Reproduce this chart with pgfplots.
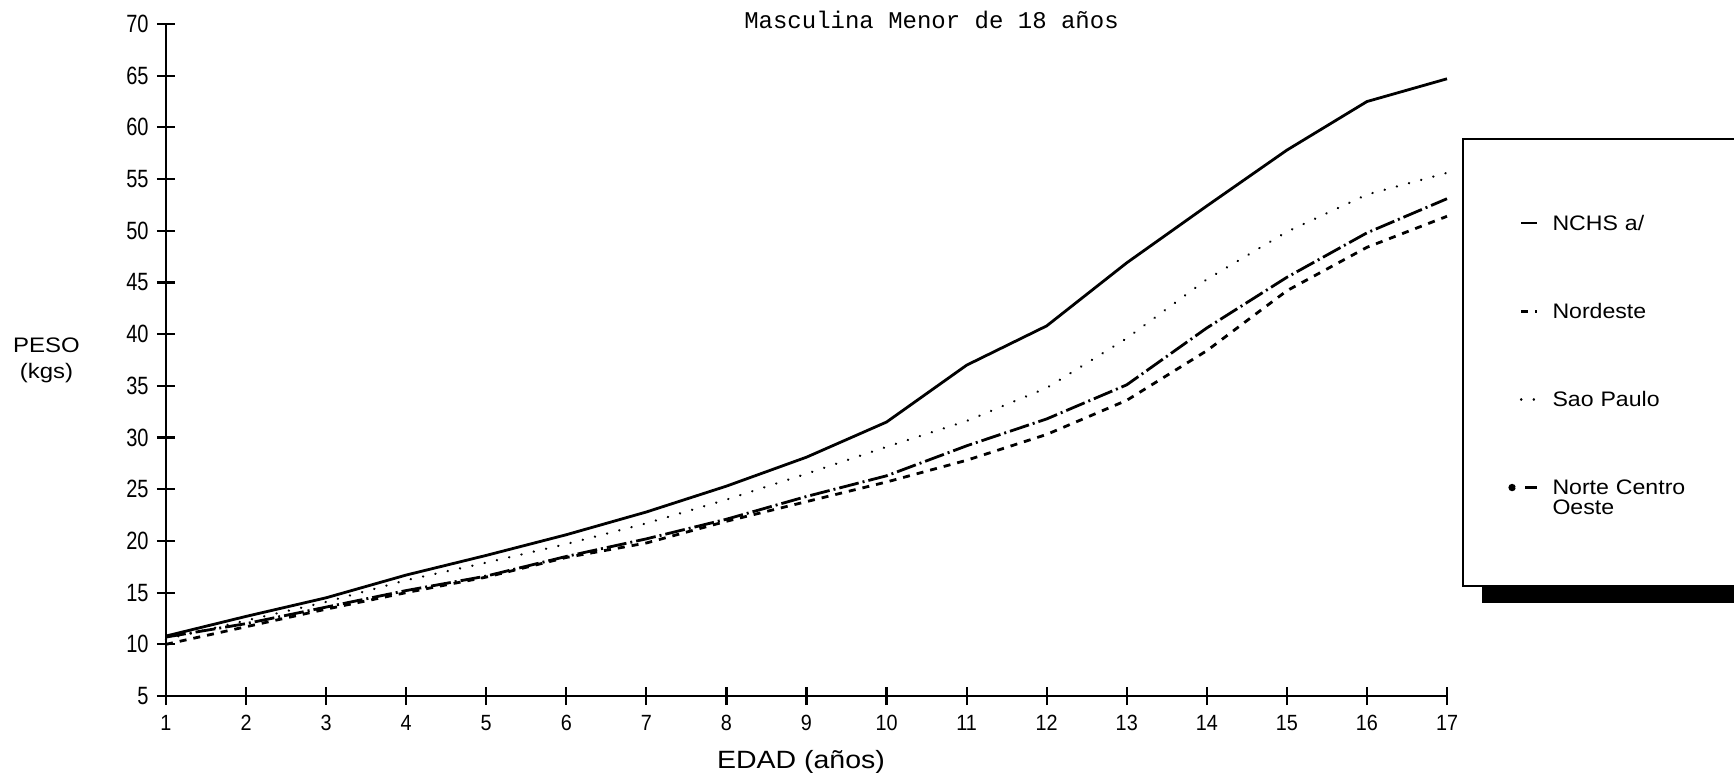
\documentclass[border=0pt]{standalone}
\usepackage{fontspec}
\setmainfont{Liberation Sans}
\newfontfamily\ytickfont[FakeStretch=0.8]{Liberation Sans}
\newfontfamily\xtickfont[FakeStretch=0.9]{Liberation Sans}
\newfontfamily\labelfont[FakeStretch=1.14]{Liberation Sans}
\newfontfamily\legfont[FakeStretch=1.1]{Liberation Sans}
\newfontfamily\titlefont{Liberation Mono}
\usepackage{pgfplots}
\pgfplotsset{compat=1.18}
\usetikzlibrary{shadows}

\begin{document}
\begin{tikzpicture}
\useasboundingbox (-83pt,-38pt) rectangle (784pt,348pt);
\begin{axis}[
  scale only axis, width=640.5pt, height=336pt,
  at={(0,0)}, anchor=south west,
  xmin=1, xmax=17, ymin=5, ymax=70,
  axis x line*=bottom, axis y line*=left,
  axis line style={line width=1.1pt},
  xtick={1,...,17}, ytick={5,10,...,70},
  major tick length=9pt,
  every tick/.style={black, line width=1.1pt},
  /pgf/number format/assume math mode=true,
  yticklabel style={font=\fontsize{12.5}{14}\ytickfont, inner sep=0pt, xshift=-4pt},
  xticklabel style={font=\fontsize{11}{13}\xtickfont, inner sep=0pt, yshift=-5pt},
  clip=false,
  title={Masculina Menor de 18 años},
  every axis title/.style={at={(axis description cs:0,0)}, anchor=base,
    xshift=382.75pt, yshift=333.5pt, font=\fontsize{12}{14}\titlefont},
  xlabel={EDAD (años)},
  every axis x label/.style={at={(axis description cs:0,0)}, anchor=base,
    xshift=317.5pt, yshift=-36pt, font=\fontsize{12.5}{14}\labelfont},
  ylabel={PESO\\(kgs)},
  every axis y label/.style={at={(axis description cs:0,0.5)}, anchor=center,
    xshift=-59.75pt, align=center, font=\fontsize{10.5}{13}\labelfont},
  legend image code/.code={\draw[#1] (-8pt,3.6pt) -- (0pt,3.6pt);},
  legend style={at={(1.0477,0.7236)}, anchor=north west, draw=none, fill=none,
    inner sep=0pt, row sep=30.6pt, column sep=5pt,
    font=\fontsize{10.5}{10}\legfont,
    cells={anchor=base west, inner sep=0pt, text width=110pt, text height=8pt, text depth=3pt}},
  xtick align=center, ytick align=center,
]

% NCHS a/
\addplot[black, line width=1.4pt] coordinates {
  (1,10.8) (2,12.7) (3,14.5) (4,16.7) (5,18.6) (6,20.6) (7,22.8) (8,25.3) (9,28.1)
  (10,31.5) (11,37.0) (12,40.8) (13,46.9) (14,52.4) (15,57.8) (16,62.5) (17,64.7)
};
\addlegendentry{NCHS a/}

% Nordeste
\addplot[black, line width=1.4pt, dash pattern=on 3.5pt off 3.5pt] coordinates {
  (1,10.0) (2,11.7) (3,13.4) (4,15.0) (5,16.5) (6,18.4) (7,19.8) (8,21.9) (9,23.8)
  (10,25.7) (11,27.8) (12,30.3) (13,33.6) (14,38.4) (15,44.2) (16,48.4) (17,51.4)
};
\addlegendentry{Nordeste}

% Sao Paulo
\addplot[black, line width=1.2pt, line cap=round, dash pattern=on 0.1pt off 6.2pt] coordinates {
  (1,10.5) (2,12.3) (3,14.1) (4,16.2) (5,17.9) (6,19.7) (7,21.7) (8,24.0) (9,26.5)
  (10,29.1) (11,31.6) (12,34.8) (13,39.6) (14,45.3) (15,49.9) (16,53.5) (17,55.6)
};
\addlegendentry{Sao Paulo}

% Norte Centro Oeste
\addplot[black, line width=1.4pt, dash pattern=on 10pt off 2pt on 1pt off 2pt,
  legend image code/.code={\fill (-12.5pt,3.6pt) circle[radius=1.1pt];
    \draw[line width=1.4pt] (-6pt,3.6pt) -- (0pt,3.6pt);}] coordinates {
  (1,10.7) (2,12.0) (3,13.6) (4,15.2) (5,16.6) (6,18.5) (7,20.2) (8,22.1) (9,24.3)
  (10,26.3) (11,29.2) (12,31.8) (13,35.1) (14,40.6) (15,45.5) (16,49.8) (17,53.1)
};
\addlegendentry{Norte Centro\\Oeste}

\draw[line width=1.2pt, fill=white,
  drop shadow={shadow xshift=9.5pt, shadow yshift=-8.5pt, fill=black, opacity=1}]
  (rel axis cs:1.0125,0.1637) rectangle (rel axis cs:1.28,0.8289);
\end{axis}
\end{tikzpicture}
\end{document}
